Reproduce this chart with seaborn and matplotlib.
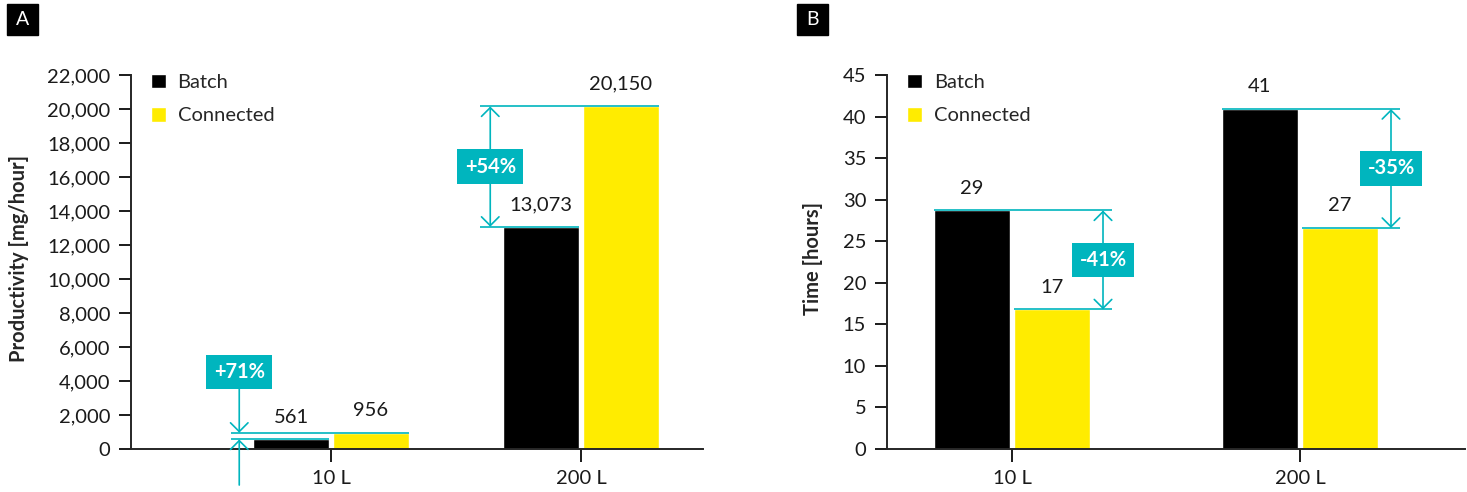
import numpy as np
import pandas as pd
import matplotlib
matplotlib.use("Agg")
import matplotlib.pyplot as plt
from matplotlib.patches import Rectangle
import seaborn as sns

# data
scales = ["10 L", "200 L"]
modes = ["Batch", "Connected"]
productivity_batch = [561, 13073]
productivity_connected = [956, 20150]
time_batch = [28.7, 40.9]
time_connected = [16.8, 26.6]
productivity_change = ["+71%", "+54%"]
time_change = ["-41%", "-35%"]
productivity_ticks = list(range(0, 22001, 2000))
time_ticks = list(range(0, 46, 5))

BLACK = "#000000"
YELLOW = "#FFEC00"
TEAL = "#00B5BE"
FONT = "Lato"

sns.set_style("ticks")
plt.rcParams["font.family"] = [FONT, "DejaVu Sans"]
plt.rcParams["font.size"] = 14


def make_df(batch, connected):
    return pd.DataFrame({
        "scale": scales * 2,
        "mode": [modes[0]] * len(scales) + [modes[1]] * len(scales),
        "value": list(batch) + list(connected),
    })


def style_axis(ax, ticks, fmt, ylabel, label_x):
    ax.set_ylim(ticks[0], ticks[-1])
    ax.set_yticks(ticks)
    ax.set_yticklabels([fmt(t) for t in ticks])
    ax.set_xlabel("")
    ax.set_ylabel(ylabel, fontsize=14.5, fontweight="bold")
    ax.yaxis.set_label_coords(label_x, 0.51)
    sns.despine(ax=ax)
    for s in ["left", "bottom"]:
        ax.spines[s].set_linewidth(1.4)
    ax.tick_params(axis="both", length=9, width=1.4, pad=6, labelsize=14.5, colors="#1a1a1a")
    h, l = ax.get_legend_handles_labels()
    ax.legend(h, l, loc="upper left", bbox_to_anchor=(0.035, 1.003), frameon=False,
              handlelength=0.72, handleheight=0.72, handletextpad=0.6,
              labelspacing=0.8, borderpad=0, borderaxespad=0, fontsize=14.5)


def value_labels(ax, fmt):
    for cont in ax.containers:
        for bar in cont:
            h = bar.get_height()
            ax.annotate(fmt(h), (bar.get_x() + bar.get_width() / 2, h),
                        xytext=(0, 16), textcoords="offset points",
                        ha="center", va="center", fontsize=14.5, color="#1a1a1a")


def arrow(ax, x, y_from, y_to, style):
    ax.annotate("", xy=(x, y_to), xytext=(x, y_from), annotation_clip=False,
                arrowprops=dict(arrowstyle=style + ",head_length=0.45,head_width=0.45",
                                color=TEAL, lw=1.2, shrinkA=0, shrinkB=0,
                                mutation_scale=14, clip_on=False), zorder=4)


def change_box(ax, x, y, text):
    ax.text(x, y, text, ha="center", va="center", color="white", fontsize=14.5,
            fontweight="bold", zorder=6,
            bbox=dict(boxstyle="square,pad=0.36", fc=TEAL, ec="none"))


def change_left(ax, b_lo, b_hi, text, dx, ext, outside=None):
    # vertical marker left of the group, lines run to the right edge of each bar
    xv = b_lo.get_x() - dx
    for b in (b_lo, b_hi):
        ax.plot([xv - ext, b.get_x() + b.get_width()], [b.get_height()] * 2,
                color=TEAL, lw=1.2, zorder=4, solid_capstyle="butt")
    lo, hi = b_lo.get_height(), b_hi.get_height()
    if outside is None:
        arrow(ax, xv, lo, hi, "<->")
        change_box(ax, xv, (lo + hi) / 2, text)
    else:
        box_y, bottom_y = outside
        arrow(ax, xv, box_y, hi, "->")
        arrow(ax, xv, bottom_y, lo, "->")
        change_box(ax, xv, box_y, text)


def change_right(ax, b_hi, b_lo, text, dx, ext):
    # vertical marker right of the group, lines start at the left edge of each bar
    xv = b_lo.get_x() + b_lo.get_width() + dx
    for b in (b_hi, b_lo):
        ax.plot([b.get_x(), xv + ext], [b.get_height()] * 2,
                color=TEAL, lw=1.2, zorder=4, solid_capstyle="butt")
    hi, lo = b_hi.get_height(), b_lo.get_height()
    arrow(ax, xv, lo, hi, "<->")
    change_box(ax, xv, (lo + hi) / 2, text)


fig = plt.figure(figsize=(14.67, 4.92), dpi=100)
ax_a = fig.add_axes([131 / 1467, 43 / 492, 572 / 1467, 374 / 492])
ax_b = fig.add_axes([887 / 1467, 43 / 492, 578 / 1467, 374 / 492])

# Panel A - productivity
sns.barplot(data=make_df(productivity_batch, productivity_connected), x="scale", y="value",
            hue="mode", palette=[BLACK, YELLOW], saturation=1, width=0.636, gap=0.044,
            errorbar=None, ax=ax_a)
ax_a.set_xlim(-0.8, 1.488)
style_axis(ax_a, productivity_ticks, lambda t: f"{t:,}", "Productivity [mg/hour]", -0.178)
value_labels(ax_a, lambda v: f"{v:,.0f}")
bA, cA = ax_a.containers[0], ax_a.containers[1]
change_left(ax_a, bA[0], cA[0], productivity_change[0], 0.056, 0.034, outside=(4530, -2120))
change_left(ax_a, bA[1], cA[1], productivity_change[1], 0.052, 0.04)

# Panel B - process time
sns.barplot(data=make_df(time_batch, time_connected), x="scale", y="value",
            hue="mode", palette=[BLACK, YELLOW], saturation=1, width=0.556, gap=0.05,
            errorbar=None, ax=ax_b)
ax_b.set_xlim(-0.434, 1.573)
style_axis(ax_b, time_ticks, lambda t: f"{t}", "Time [hours]", -0.11)
value_labels(ax_b, lambda v: f"{v:.0f}")
bB, cB = ax_b.containers[0], ax_b.containers[1]
for i in range(len(scales)):
    change_right(ax_b, bB[i], cB[i], time_change[i], 0.045, 0.03)

# panel letters
for x0, letter in [(7, "A"), (797, "B")]:
    fig.add_artist(Rectangle((x0 / 1467, 1 - 35 / 492), 31 / 1467, 31 / 492,
                             transform=fig.transFigure, color=BLACK))
    fig.text((x0 + 15.5) / 1467, 1 - 19.5 / 492, letter, color="white",
             ha="center", va="center", fontsize=14)

fig.savefig("out.png", dpi=100)
